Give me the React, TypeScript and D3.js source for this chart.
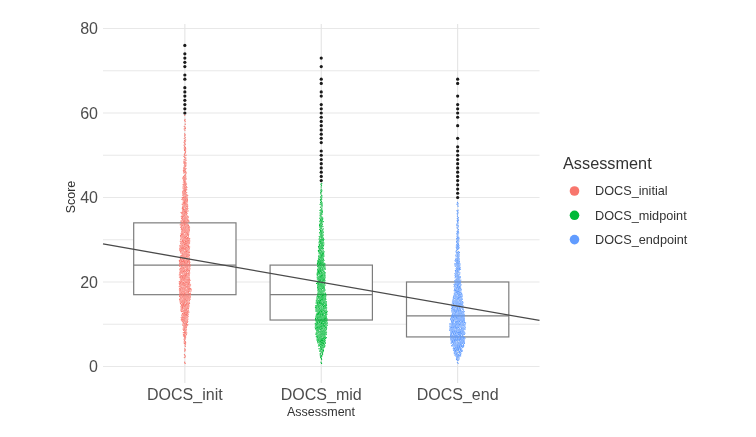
import React from "react";
import * as d3 from "d3";

const categories = ["DOCS_init", "DOCS_mid", "DOCS_end"];
const legendLabels = ["DOCS_initial", "DOCS_midpoint", "DOCS_endpoint"];
const colors = ["#F8766D", "#00BA38", "#619CFF"];
const yTicks = [0, 20, 40, 60, 80];
const gridValues = [0, 10, 20, 30, 40, 50, 60, 70, 80];

// Box statistics
const q1 = [17, 11, 7];
const medians = [24, 17, 12];
const q3 = [34, 24, 20];

// Number of drawn dots per integer score, starting at score 1
const countsInit = [2,2,2,3,4,5,7,10,12,16,20,22,24,26,30,33,36,40,36,34,33,32,33,35,32,30,30,31,30,29,28,27,27,26,22,20,18,18,16,18,14,12,10,10,9,8,8,7,6,6,5,5,4,4,3,3,3,2,2];
const countsMid = [2,4,8,14,20,26,30,34,37,40,38,36,36,36,33,30,27,25,24,26,26,27,26,24,20,18,17,17,16,14,12,12,10,10,9,8,7,6,6,5,4,3,3];
const countsEnd = [3,10,20,30,38,44,46,48,50,52,48,42,40,38,34,30,26,24,22,20,16,15,16,16,13,11,10,9,8,8,7,6,5,5,4,4,3,3,2];
const counts = [countsInit, countsMid, countsEnd];

// Outliers
const outInit = [76,74,73,72,71,69,68,66,65,64,63,62,61,60];
const outMid = [73,71,68,67,65,64,62,61,60,59,58,57,56,55,54,53,51,50,49,48,47,46,45,44];
const outEnd = [68,67,64,62,61,60,59,57,54,52,51,50,49,48,47,46,45,44,43,42,41,40];
const outliers = [outInit, outMid, outEnd];

// Regression line end values at the panel edges
const trendScores = [29, 10.9];

const PANEL = { left: 103, right: 539.5, top: 24, bottom: 383 };
const Y0 = 366.5;
const Y80 = 28.5;
const FONT = "'Liberation Sans', Arial, sans-serif";

const x = d3.scaleBand<string>().domain(categories).range([PANEL.left, PANEL.right]).paddingInner(0).paddingOuter(0.1);
const y = d3.scaleLinear().domain([0, 80]).range([Y0, Y80]);

const PHI1 = 0.7548776662;
const PHI2 = 0.5698402910;
const frac = (v: number) => v - Math.floor(v);

type Dot = d3.SimulationNodeDatum & { x: number; y: number; hx: number; hy: number };

// Packs the dots of each score so they sit side by side, as a swarm does
function swarm(cat: number): Dot[] {
  const cx = x(categories[cat])! + x.bandwidth() / 2;
  const dots: Dot[] = [];
  counts[cat].forEach((n, idx) => {
    const score = idx + 1;
    const hw = Math.max(0.2, n * 0.15);
    for (let i = 0; i < n; i++) {
      const u = frac(i * i * i * 0.1347 + i * i * PHI2 + i * PHI1 + score * 0.37);
      const v = frac(i * i * i * 0.0931 + i * i * PHI1 * 0.5 + i * PHI2 + score * 0.61);
      const px = cx + hw * (2 * u - 1);
      const py = y(score) + (v - 0.5) * (y(0) - y(1));
      dots.push({ x: px, y: py, hx: px, hy: py });
    }
  });
  const sim = d3
    .forceSimulation<Dot>(dots)
    .force("x", d3.forceX<Dot>((d) => d.hx).strength(0.25))
    .force("y", d3.forceY<Dot>((d) => d.hy).strength(0.12))
    .force("collide", d3.forceCollide<Dot>(0.62).strength(0.7).iterations(2))
    .stop();
  for (let t = 0; t < 40; t++) sim.tick();
  return dots;
}

const swarms = categories.map((_, i) => swarm(i));

export default function App() {
  const bw = x.bandwidth() * 0.75;
  const trend = d3.line<number>().x((_, i) => (i === 0 ? PANEL.left : PANEL.right)).y((d) => y(d));
  return (
    <svg width={756} height={437} style={{ position: "absolute", left: 0, top: 0, fontFamily: FONT, filter: "blur(0.35px)" }}>
      <rect width={756} height={437} fill="#fff" />
      {gridValues.map((v) => (
        <line key={v} x1={PANEL.left} x2={PANEL.right} y1={y(v)} y2={y(v)} stroke="#e8e8e8" strokeWidth={1.2} />
      ))}
      {categories.map((c) => {
        const cx = x(c)! + x.bandwidth() / 2;
        return <line key={c} x1={cx} x2={cx} y1={PANEL.top} y2={PANEL.bottom} stroke="#e4e4e4" strokeWidth={1.1} />;
      })}
      {categories.map((c, i) => {
        const cx = x(c)! + x.bandwidth() / 2;
        return (
          <g key={c} stroke="#7d7d7d" strokeWidth={1.2}>
            <rect x={cx - bw / 2} width={bw} y={y(q3[i])} height={y(q1[i]) - y(q3[i])} fill="#fff" />
            <line x1={cx - bw / 2} x2={cx + bw / 2} y1={y(medians[i])} y2={y(medians[i])} />
          </g>
        );
      })}
      {categories.map((c, i) => (
        <g key={c} fill={colors[i]}>
          {swarms[i].map((d, j) => (
            <circle key={j} cx={d.x} cy={d.y} r={0.65} />
          ))}
        </g>
      ))}
      {categories.map((c, i) => {
        const cx = x(c)! + x.bandwidth() / 2;
        return (
          <g key={c} fill="#1a1a1a">
            {outliers[i].map((s) => (
              <circle key={s} cx={cx} cy={y(s)} r={1.6} />
            ))}
          </g>
        );
      })}
      <path d={trend(trendScores)!} fill="none" stroke="#4a4a4a" strokeWidth={1.3} />
      {yTicks.map((t) => (
        <text key={t} x={98} y={y(t)} dy="0.35em" textAnchor="end" fontSize={16} fill="#4d4d4d">{t}</text>
      ))}
      {categories.map((c) => (
        <text key={c} x={x(c)! + x.bandwidth() / 2} y={399.5} textAnchor="middle" fontSize={16} fill="#4d4d4d">{c}</text>
      ))}
      <text x={321} y={415.5} textAnchor="middle" fontSize={12.5} fill="#333">Assessment</text>
      <text transform="translate(74.5,197) rotate(-90)" textAnchor="middle" fontSize={12.5} fill="#333">Score</text>
      <text x={563} y={169} fontSize={16.3} fill="#333">Assessment</text>
      {legendLabels.map((l, i) => (
        <g key={l}>
          <circle cx={574.5} cy={191 + i * 24.3} r={4.8} fill={colors[i]} />
          <text x={595} y={191 + i * 24.3} dy="0.35em" fontSize={12.7} fill="#333">{l}</text>
        </g>
      ))}
    </svg>
  );
}
